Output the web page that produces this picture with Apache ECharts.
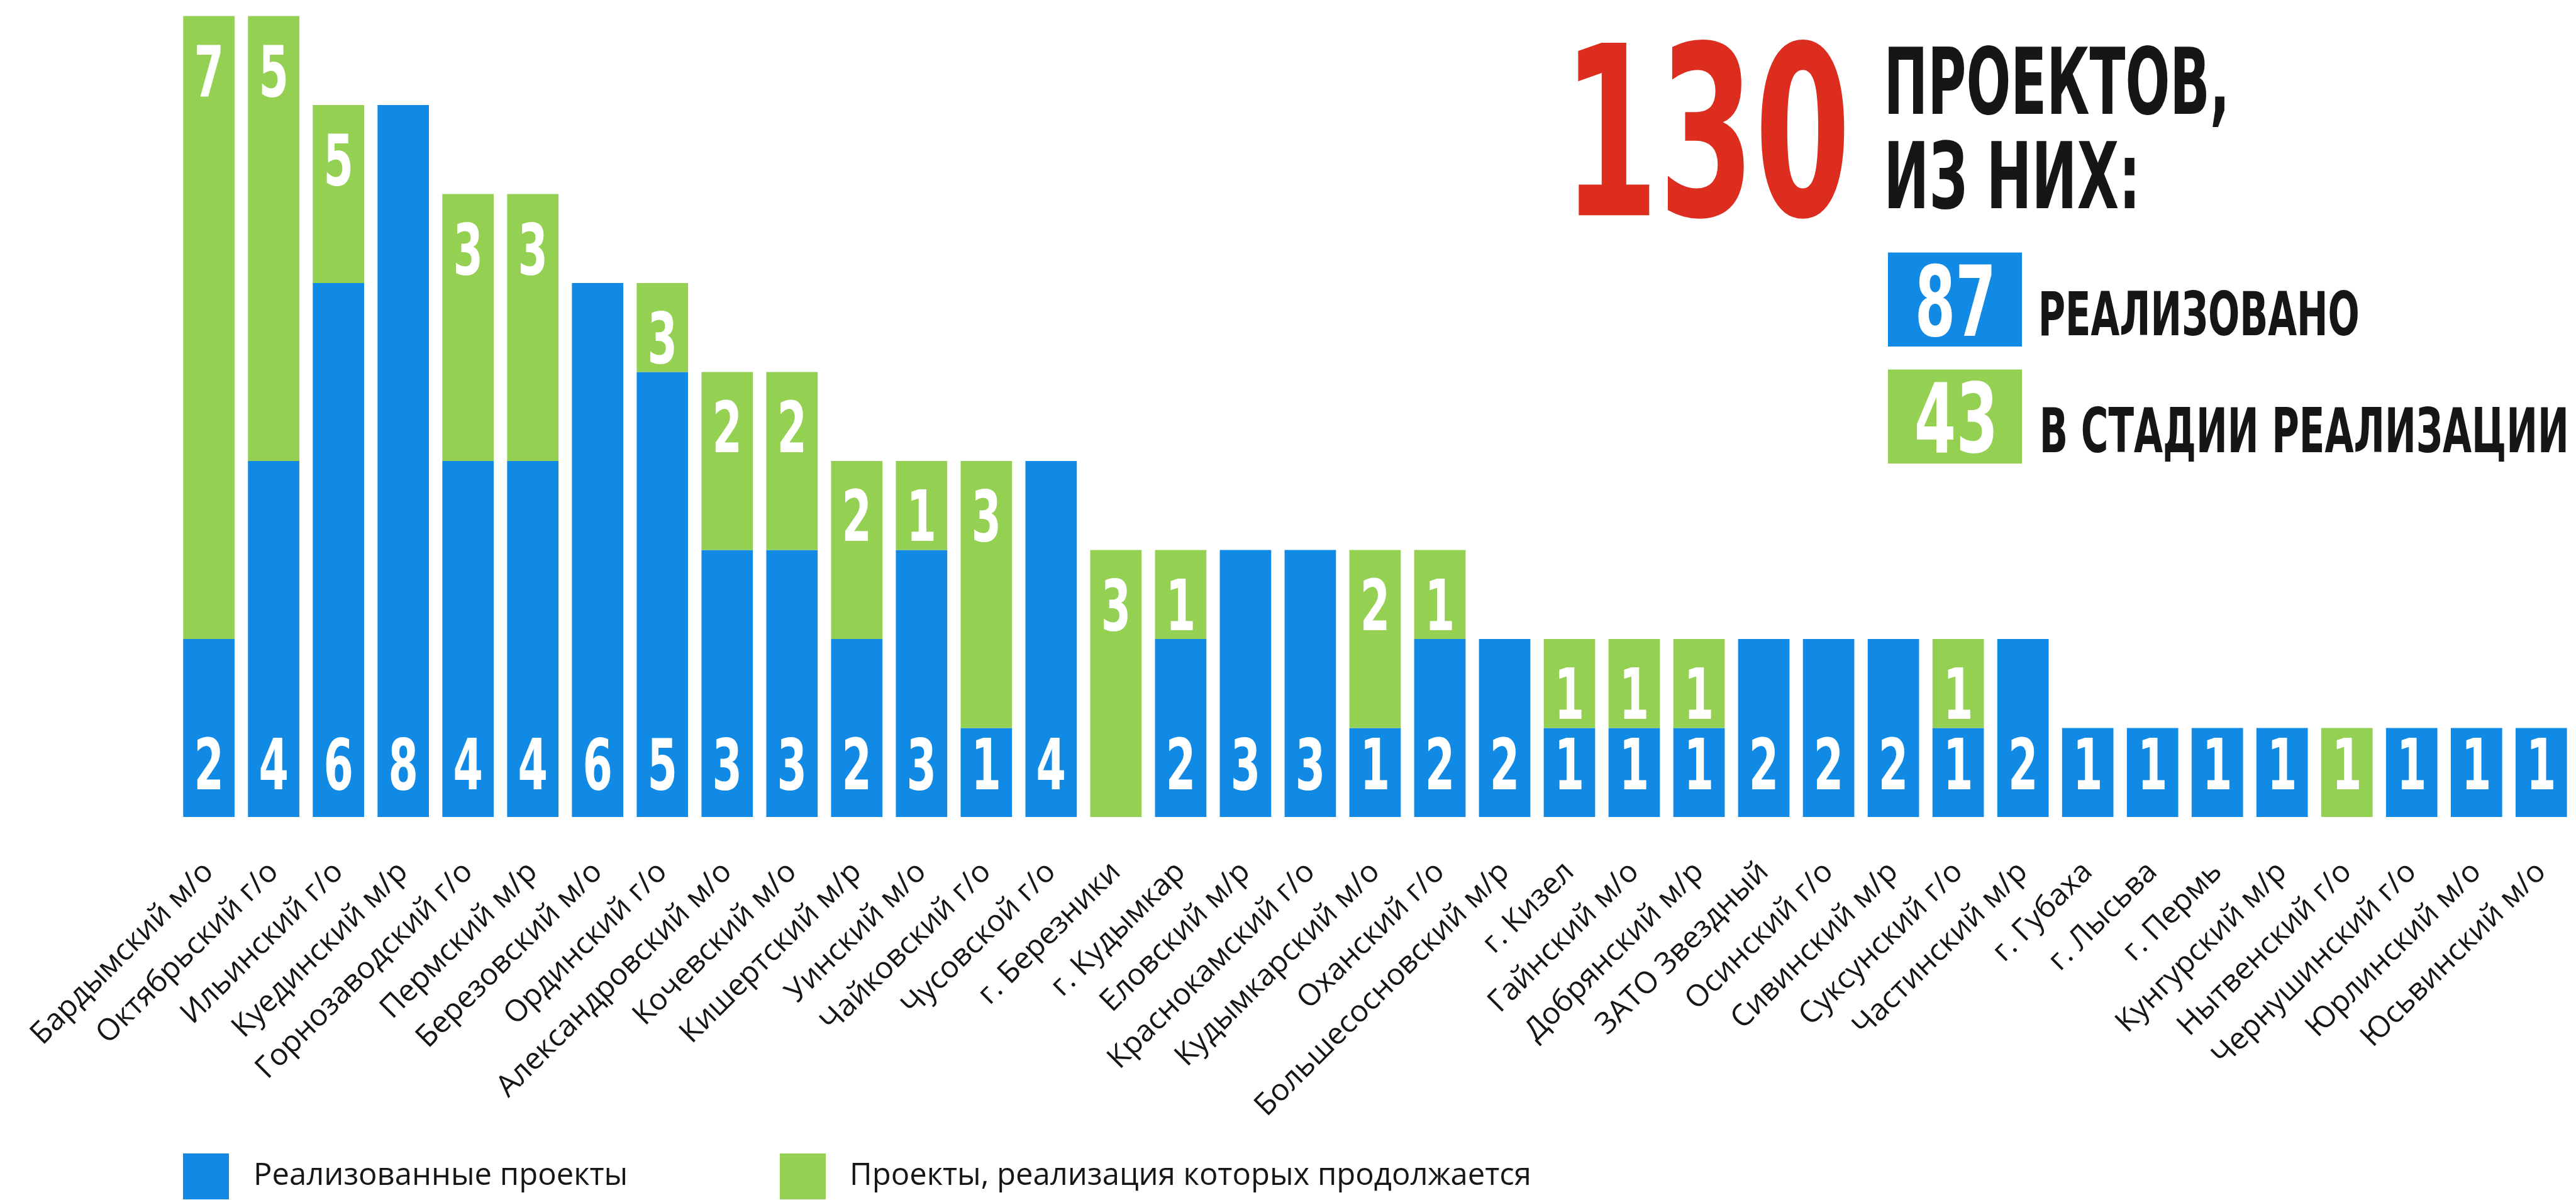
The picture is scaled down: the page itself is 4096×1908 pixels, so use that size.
<!DOCTYPE html>
<html>
<head>
<meta charset="utf-8">
<script src="https://cdn.jsdelivr.net/npm/echarts@6/dist/echarts.min.js"></script>
<style>
  html, body { margin: 0; padding: 0; background: #fff; }
  #chart { width: 4096px; height: 1908px; }
</style>
</head>
<body>
<div id="chart"></div>
<script>
const categories = [
  'Бардымский м/о', 'Октябрьский г/о', 'Ильинский г/о', 'Куединский м/р', 'Горнозаводский г/о',
  'Пермский м/р', 'Березовский м/о', 'Ординский г/о', 'Александровский м/о', 'Кочевский м/о',
  'Кишертский м/р', 'Уинский м/о', 'Чайковский г/о', 'Чусовской г/о', 'г. Березники',
  'г. Кудымкар', 'Еловский м/р', 'Краснокамский г/о', 'Кудымкарский м/о', 'Оханский г/о',
  'Большесосновский м/р', 'г. Кизел', 'Гайнский м/о', 'Добрянский м/р', 'ЗАТО Звездный',
  'Осинский г/о', 'Сивинский м/р', 'Суксунский г/о', 'Частинский м/р', 'г. Губаха',
  'г. Лысьва', 'г. Пермь', 'Кунгурский м/р', 'Нытвенский г/о', 'Чернушинский г/о',
  'Юрлинский м/о', 'Юсьвинский м/о'
];
// реализовано
const doneValues = [2, 4, 6, 8, 4, 4, 6, 5, 3, 3, 2, 3, 1, 4, 0, 2, 3, 3, 1, 2, 2, 1, 1, 1, 2, 2, 2, 1, 2, 1, 1, 1, 1, 0, 1, 1, 1];
// в стадии реализации (высота столбца)
const goingValues = [7, 5, 2, 0, 3, 3, 0, 1, 2, 2, 2, 1, 3, 0, 3, 1, 0, 0, 2, 1, 0, 1, 1, 1, 0, 0, 0, 1, 0, 0, 0, 0, 0, 1, 0, 0, 0];
// подписи на зелёных частях, как напечатано
const goingLabels = ['7', '5', '5', '', '3', '3', '', '3', '2', '2', '2', '1', '3', '', '3', '1', '', '', '2', '1', '', '1', '1', '1', '', '', '', '1', '', '', '', '', '', '1', '', '', ''];
const legendNames = ['Реализованные проекты', 'Проекты, реализация которых продолжается'];

const BLUE = '#118ae6';
const GREEN = '#94d052';
const RED = '#dd2d1e';
const INK = '#161616';

const ctx = document.createElement('canvas').getContext('2d');

function hasFont(name) {
  const s = 'ПРОЕКТ 0123456789 mmwwii';
  for (const base of ['monospace', 'serif']) {
    ctx.font = '100px ' + base;
    const a = ctx.measureText(s).width;
    ctx.font = '100px "' + name + '", ' + base;
    if (ctx.measureText(s).width !== a) return true;
  }
  return false;
}
const narrow = ['Liberation Sans Narrow', 'DejaVu Sans Condensed', 'Liberation Sans'].find(hasFont) || 'sans-serif';
const plain = ['Open Sans', 'Noto Sans', 'DejaVu Sans'].find(hasFont) || 'sans-serif';

function measure(text, weight, fam) {
  ctx.font = weight + ' 100px "' + fam + '"';
  ctx.textBaseline = 'alphabetic';
  const m = ctx.measureText(text);
  ctx.textBaseline = 'middle';
  const mm = ctx.measureText(text);
  return {
    left: m.actualBoundingBoxLeft, right: m.actualBoundingBoxRight, asc: m.actualBoundingBoxAscent,
    midAsc: mm.actualBoundingBoxAscent, midDesc: mm.actualBoundingBoxDescent
  };
}

// text squeezed into a box: left/right of glyphs, cap top / baseline
function fitText(text, box, color) {
  const m = measure(text, 'bold', narrow);
  const fs = 100 * (box.bottom - box.top) / m.asc;
  const k = fs / 100;
  const sx = (box.right - box.left) / ((m.left + m.right) * k);
  return {
    type: 'text', silent: true,
    x: box.left + sx * m.left * k,
    y: box.top + m.midAsc * k,
    scaleX: sx,
    style: {
      text: text, x: 0, y: 0, fill: color,
      font: 'bold ' + fs.toFixed(2) + 'px "' + narrow + '"',
      align: 'left', verticalAlign: 'middle', textAlign: 'left', textVerticalAlign: 'middle'
    }
  };
}

const doneTotal = doneValues.reduce((a, b) => a + b, 0);
const goingTotal = goingValues.reduce((a, b) => a + b, 0);

// numbers on the bars: digits 84.6px high, ~36px wide, 43px from the bar edge
const dm = measure('0123456789', 'bold', narrow);
const labelSize = 84.6 / (dm.asc / 100);
const lk = labelSize / 100;
const d2 = measure('2', 'bold', narrow);
const labelScale = 36.4 / ((d2.left + d2.right) * lk);
const centerShift = (dm.midDesc - dm.midAsc) / 2 * lk;
const EDGE = 43.3 + 84.6 / 2;

function digit(text, cx, cy) {
  return {
    type: 'text',
    x: cx, y: cy - centerShift, scaleX: labelScale,
    style: {
      text: text, x: 0, y: 0, fill: '#fff',
      font: 'bold ' + labelSize.toFixed(2) + 'px "' + narrow + '"',
      align: 'center', verticalAlign: 'middle'
    }
  };
}

function renderNumbers(params, api) {
  const i = params.dataIndex;
  const done = doneValues[i];
  const going = goingValues[i];
  const base = api.coord([i, 0]);
  const children = [];
  if (done) children.push(digit(String(done), base[0], base[1] - EDGE));
  if (going) {
    const top = api.coord([i, done + going])[1];
    // single green bar of one unit: number sits like the blue ones
    const low = done === 0 && going === 1;
    children.push(digit(goingLabels[i], base[0], low ? base[1] - EDGE : top + EDGE));
  }
  return { type: 'group', children: children };
}

const chart = echarts.init(document.getElementById('chart'), null, { renderer: 'canvas' });

chart.setOption({
  animation: false,
  backgroundColor: '#fff',
  grid: { left: 280.6, right: 3.7, top: 25.6, bottom: 609.1, containLabel: false },
  xAxis: {
    type: 'category',
    data: categories,
    axisLine: { show: false },
    axisTick: { show: false },
    axisLabel: {
      interval: 0,
      rotate: 45,
      margin: 80,
      fontFamily: plain,
      fontSize: 48,
      color: INK
    }
  },
  yAxis: { type: 'value', min: 0, max: 9, show: false },
  legend: [
    {
      data: [legendNames[0]], left: 291, top: 1834, padding: 0,
      icon: 'rect', itemWidth: 73, itemHeight: 73, selectedMode: false,
      textStyle: { fontFamily: plain, fontSize: 49, color: INK, padding: [12, 0, 0, 34] }
    },
    {
      data: [legendNames[1]], left: 1240, top: 1834, padding: 0,
      icon: 'rect', itemWidth: 73, itemHeight: 73, selectedMode: false,
      textStyle: { fontFamily: plain, fontSize: 49, color: INK, padding: [12, 0, 0, 33] }
    }
  ],
  series: [
    {
      name: legendNames[0],
      type: 'bar',
      stack: 'all',
      barWidth: 81.7,
      itemStyle: { color: BLUE },
      data: doneValues.map((v) => (v ? v : null))
    },
    {
      name: legendNames[1],
      type: 'bar',
      stack: 'all',
      barWidth: 81.7,
      itemStyle: { color: GREEN },
      data: goingValues.map((v) => (v ? v : null))
    },
    {
      name: 'numbers',
      type: 'custom',
      silent: true,
      z: 5,
      renderItem: renderNumbers,
      data: categories.map((c, i) => [i, doneValues[i] + goingValues[i]])
    }
  ],
  graphic: [
    fitText(String(doneTotal + goingTotal), { left: 2509, right: 2934, top: 60, bottom: 342.4 }, RED),
    fitText('ПРОЕКТОВ,', { left: 3003, right: 3537, top: 71.8, bottom: 181 }, INK),
    fitText('ИЗ НИХ:', { left: 3003, right: 3394, top: 220.4, bottom: 330.6 }, INK),
    {
      type: 'rect', silent: true,
      shape: { x: 3002, y: 401.5, width: 213, height: 149.6 },
      style: { fill: BLUE }
    },
    fitText(String(doneTotal), { left: 3050, right: 3167, top: 418, bottom: 534 }, '#fff'),
    fitText('РЕАЛИЗОВАНО', { left: 3246, right: 3749, top: 460.5, bottom: 533 }, INK),
    {
      type: 'rect', silent: true,
      shape: { x: 3002, y: 587.5, width: 213, height: 149.6 },
      style: { fill: GREEN }
    },
    fitText(String(goingTotal), { left: 3048, right: 3170, top: 604, bottom: 719 }, '#fff'),
    fitText('В СТАДИИ РЕАЛИЗАЦИИ', { left: 3248, right: 4080, top: 645.5, bottom: 719 }, INK)
  ]
});
</script>
</body>
</html>
